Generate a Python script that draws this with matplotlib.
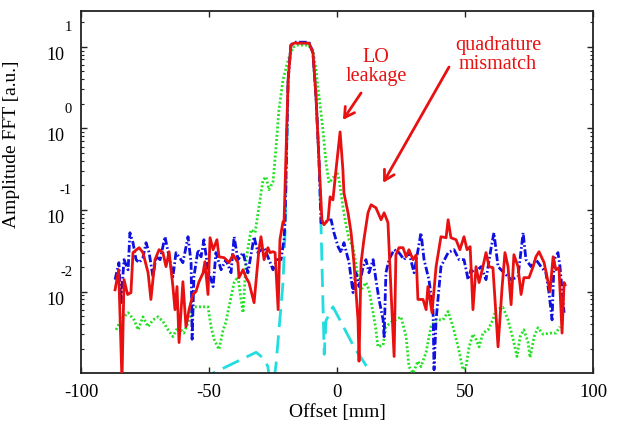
import matplotlib
matplotlib.use("Agg")
import matplotlib.pyplot as plt
from matplotlib.transforms import blended_transform_factory, offset_copy
from matplotlib.ticker import LogLocator, NullFormatter

plt.rcParams['font.family'] = ['Liberation Serif', 'DejaVu Serif']
plt.rcParams['lines.scale_dashes'] = False

# ---------------- data (offset in mm, amplitude in a.u.) ----------------
red_x = [-86.7, -85.3, -84.0, -83.2, -81.8, -80.5, -79.7, -77.3, -75.8, -73.8,
         -72.7, -71.1, -69.5, -68.0, -66.8, -65.6, -64.1, -63.3, -62.5, -61.7,
         -60.2, -59.0, -57.8, -56.3, -55.1, -53.9, -52.3, -51.6, -50.4, -49.6,
         -48.4, -46.9, -46.1, -44.1, -42.2, -40.6, -38.7, -38.3, -36.7, -35.5,
         -34.4, -32.4, -30.5, -29.7, -28.5, -27.0, -26.2, -25.0, -24.2, -23.0,
         -22.3, -21.1, -20.7, -19.1, -18.0, -16.8, -10.9, -9.4, -8.2, -7.0,
         -5.9, -5.1, -3.5, -2.7, -1.6, -0.4, 1.2, 2.3, 2.7, 4.3,
         5.5, 6.6, 8.2, 8.6, 9.4, 10.5, 12.1, 13.3, 15.2, 17.2,
         18.4, 19.9, 21.1, 22.3, 23.0, 24.2, 25.8, 27.0, 28.1, 29.7,
         30.9, 31.6, 33.6, 34.8, 35.5, 37.1, 38.7, 40.6, 42.6, 43.4,
         44.5, 46.5, 48.0, 49.6, 50.8, 52.0, 53.1, 54.3, 55.5, 57.0,
         58.2, 59.4, 60.9, 62.9, 64.5, 65.6, 66.8, 68.0, 69.1, 70.7,
         71.9, 73.0, 75.0, 76.6, 77.7, 78.9, 80.9, 82.4, 83.2, 84.4,
         85.5, 86.7, 87.9, 88.7, 89.1]
red_y = [0.0105, 0.0185, 0.0008, 0.014, 0.0092, 0.0097, 0.030, 0.0345, 0.030, 0.017,
         0.008, 0.0246, 0.0326, 0.030, 0.0202, 0.0308, 0.0115, 0.006, 0.0115, 0.00237,
         0.0132, 0.0037, 0.006, 0.0092, 0.010, 0.0132, 0.017, 0.0232, 0.0092, 0.0457,
         0.0326, 0.0432, 0.0267, 0.026, 0.0226, 0.0283, 0.0226, 0.0148, 0.0185, 0.0148,
         0.0129, 0.0073, 0.0326, 0.047, 0.0246, 0.0345, 0.030, 0.0308, 0.030, 0.006,
         0.0432, 0.0717, 0.0697, 3.92, 10.5, 11.1, 11.1, 8.4, 2.43, 0.378,
         0.0759, 0.0659, 0.0759, 0.145, 0.133, 0.31, 0.906, 0.31, 0.162, 0.0924,
         0.0526, 0.0226, 0.0045, 0.0014, 0.0226, 0.0432, 0.0924, 0.1158, 0.1064, 0.0759,
         0.0924, 0.070, 0.010, 0.0016, 0.028, 0.0345, 0.0345, 0.0267, 0.0326, 0.0246,
         0.028, 0.008, 0.008, 0.006, 0.0115, 0.0055, 0.0202, 0.047, 0.0457, 0.0759,
         0.0457, 0.0432, 0.0326, 0.047, 0.0326, 0.0355, 0.006, 0.0202, 0.0129, 0.0202,
         0.030, 0.0202, 0.0196, 0.0021, 0.0115, 0.030, 0.0202, 0.0069, 0.0283, 0.0202,
         0.0092, 0.0148, 0.0148, 0.0202, 0.0267, 0.0308, 0.0226, 0.0132, 0.010, 0.0267,
         0.0185, 0.0196, 0.0031, 0.0129, 0.0121]

blue_x = [-86.7, -85.2, -84.4, -83.2, -81.6, -80.9, -79.7, -78.5, -77.3, -75.8,
          -74.6, -73.4, -71.9, -70.7, -69.1, -67.2, -65.6, -64.1, -62.9, -61.7,
          -60.2, -58.2, -57.0, -56.6, -55.9, -54.3, -53.1, -52.0, -50.4, -49.2,
          -48.4, -47.3, -45.3, -43.4, -41.4, -40.2, -38.7, -36.7, -34.8, -32.4,
          -30.9, -28.5, -27.0, -25.0, -23.4, -21.9, -20.7, -20.3, -19.1, -18.0,
          -16.8, -10.9, -9.4, -8.2, -7.0, -6.25, -4.3, -2.3, -1.2, 0.4,
          1.6, 2.7, 4.7, 6.25, 7.4, 8.6, 10.2, 11.3, 12.5, 14.1,
          15.2, 16.4, 18.0, 18.4, 19.1, 20.3, 22.3, 24.2, 26.2, 28.1,
          30.1, 32.8, 34.0, 35.9, 37.5, 37.9, 38.7, 40.6, 43.4, 45.7,
          47.7, 49.6, 51.2, 52.3, 53.5, 56.3, 58.2, 60.2, 61.3, 62.9,
          65.2, 68.0, 70.7, 72.7, 73.8, 75.8, 77.7, 79.7, 81.6, 82.8,
          84.0, 84.8, 86.3, 87.1, 88.7]
blue_y = [0.014, 0.0226, 0.0073, 0.0246, 0.0185, 0.0526, 0.0397, 0.0246, 0.0226, 0.026,
          0.0397, 0.030, 0.0152, 0.0267, 0.0246, 0.047, 0.0267, 0.0152, 0.030, 0.0267,
          0.0226, 0.047, 0.0226, 0.0026, 0.0152, 0.0326, 0.0267, 0.0432, 0.0185, 0.014,
          0.0115, 0.030, 0.0185, 0.0246, 0.017, 0.047, 0.0246, 0.030, 0.017, 0.047,
          0.030, 0.0345, 0.0267, 0.0185, 0.0246, 0.0246, 0.0432, 0.0717, 3.92, 10.5,
          11.4, 11.4, 8.4, 2.43, 0.378, 0.0697, 0.0717, 0.0759, 0.0526, 0.0355,
          0.030, 0.0397, 0.0226, 0.0097, 0.017, 0.0115, 0.0202, 0.0246, 0.017, 0.0246,
          0.014, 0.008, 0.0045, 0.0028, 0.017, 0.0246, 0.0326, 0.030, 0.0246, 0.030,
          0.017, 0.0526, 0.0246, 0.014, 0.006, 0.0011, 0.0045, 0.0202, 0.030, 0.0326,
          0.0246, 0.0246, 0.014, 0.0185, 0.017, 0.0202, 0.014, 0.0345, 0.0526, 0.0202,
          0.017, 0.014, 0.0152, 0.0526, 0.0246, 0.0202, 0.0246, 0.0202, 0.017, 0.0097,
          0.0045, 0.0246, 0.030, 0.0202, 0.0055]

green_x = [-86.3, -84.4, -81.6, -79.3, -77.7, -75.8, -73.8, -71.9, -69.9, -68.0,
           -66.0, -64.1, -62.1, -59.8, -57.8, -55.9, -53.1, -50.4, -49.2, -48.0,
           -46.1, -44.5, -43.4, -42.2, -40.2, -38.7, -37.5, -36.7, -35.5, -33.6,
           -32.0, -30.5, -28.9, -27.7, -26.6, -25.0, -23.8, -22.7, -21.1, -19.1,
           -17.2, -15.2, -11.3, -9.4, -8.2, -7.0, -5.5, -4.3, -3.1, -1.2,
           0.0, 0.8, 2.3, 3.5, 4.7, 6.25, 8.2, 9.4, 11.3, 12.5,
           14.1, 15.2, 16.0, 18.0, 19.1, 21.1, 25.0, 27.0, 28.1, 29.7,
           31.6, 32.8, 34.8, 36.7, 38.7, 41.4, 43.4, 45.3, 47.3, 49.2,
           50.4, 51.6, 53.1, 54.3, 55.5, 57.0, 59.0, 60.9, 62.1, 64.8,
           66.8, 68.8, 70.3, 71.5, 73.0, 74.6, 75.4, 77.0, 78.5, 80.5,
           83.6, 85.5, 87.1]
green_y = [0.0034, 0.0045, 0.0055, 0.0045, 0.0034, 0.0049, 0.0037, 0.0045, 0.0049, 0.0043,
           0.0034, 0.0028, 0.0037, 0.0031, 0.0045, 0.0065, 0.0065, 0.0065, 0.0037, 0.0026,
           0.00195, 0.0034, 0.0042, 0.0065, 0.0129, 0.0152, 0.008, 0.0055, 0.0246, 0.0573,
           0.0526, 0.109, 0.234, 0.255, 0.177, 0.221, 0.594, 1.68, 3.92, 6.9,
           9.95, 10.5, 10.5, 9.1, 5.2, 2.43, 0.958, 0.378, 0.215, 0.255,
           0.294, 0.234, 0.11, 0.066, 0.043, 0.0355, 0.0152, 0.0105, 0.0129, 0.0105,
           0.0055, 0.0034, 0.0021, 0.0022, 0.0037, 0.0042, 0.0049, 0.0028, 0.0012, 0.0010,
           0.0014, 0.0012, 0.0018, 0.0037, 0.0045, 0.0045, 0.0057, 0.0037, 0.0021, 0.0011,
           0.0012, 0.0021, 0.0030, 0.0026, 0.0021, 0.0031, 0.0034, 0.0045, 0.0060, 0.0064,
           0.0045, 0.0026, 0.0016, 0.0028, 0.0034, 0.0024, 0.00155, 0.0028, 0.0036, 0.0030,
           0.0031, 0.0031, 0.0037]

cyan_x = [-52.0, -48.4, -31.6, -28.5, -27.0, -25.5, -23.8, -21.1, -20.3, -19.1,
          -18.0, -16.8, -10.9, -9.4, -8.2, -7.0, -6.25, -5.0, -4.3, -1.6,
          1.6, 6.6, 13.3, 16.0]
cyan_y = [0.0007, 0.001, 0.0018, 0.0015, 0.0012, 0.0005, 0.0013, 0.0129, 0.0526, 3.92,
          10.5, 11.1, 11.1, 8.4, 2.43, 0.378, 0.065, 0.0017, 0.0044, 0.0065,
          0.0042, 0.0021, 0.001, 0.0006]

x_ticks = [-100, -50, 0, 50, 100]
y_ticks = [1e-2, 1e-1, 1e0, 1e1]
y_exponents = ['-2', '-1', '0', '1']

# ---------------- figure ----------------
fig = plt.figure(figsize=(6.29, 4.40), dpi=100)
ax = fig.add_axes([0.1288, 0.152, 0.814, 0.823])

ax.plot(cyan_x, cyan_y, color='#22dde0', lw=2.0, dashes=(13, 6), zorder=2)
ax.plot(green_x, green_y, color='#22e022', lw=2.0, dashes=(1.4, 1.6), zorder=3)
ax.plot(blue_x, blue_y, color='#1010e0', lw=2.0, dashes=(5.5, 1.8, 1.2, 1.8), zorder=4)
ax.plot(red_x, red_y, color='#e81010', lw=2.0, zorder=5)

ax.set_yscale('log')
ax.set_xlim(-100, 100)
ax.set_ylim(1e-3, 27.5)

ax.set_xticks(x_ticks)
ax.set_xticklabels([str(v) for v in x_ticks])
ax.set_yticks(y_ticks)
ax.set_yticklabels(['10'] * len(y_ticks))
ax.yaxis.set_minor_locator(LogLocator(base=10, subs=range(2, 10)))
ax.yaxis.set_minor_formatter(NullFormatter())

ax.tick_params(axis='both', which='major', direction='in', length=4.5, width=1.0,
               top=True, right=True, labelsize=13.5, colors='#222222')
ax.tick_params(axis='y', which='minor', direction='in', length=2.5, width=0.8,
               left=True, right=True, colors='#222222')
ax.tick_params(axis='x', which='major', pad=8)
ax.tick_params(axis='y', which='major', pad=12)
for lab in ax.get_yticklabels():
    lab.set_va('top')
    lab.set_fontsize(13)
for lab in ax.get_xticklabels() + ax.get_yticklabels():
    lab.set_color('black')

for s in ax.spines.values():
    s.set_linewidth(1.3)
    s.set_color('#222222')

# exponents of the y tick labels
trans = blended_transform_factory(ax.transAxes, ax.transData)
for val, ex in zip(y_ticks, y_exponents):
    ax.text(0, val, ex, transform=offset_copy(trans, fig=fig, x=-9, y=19, units='dots'),
            ha='right', va='center', fontsize=10.5, color='black')

ax.set_xlabel('Offset [mm]', fontsize=14, labelpad=2)
ax.set_ylabel('Amplitude FFT [a.u.]', fontsize=14)
ax.yaxis.set_label_coords(-0.119, 0.633)

# annotations
red = '#e81010'
arrow = dict(arrowstyle='->,head_length=0.7,head_width=0.4', color=red, lw=2.0,
             shrinkA=0, shrinkB=0)
ax.text(15.2, 5.66, 'LO\nleakage', ha='center', va='center', fontsize=14.5,
        color=red, linespacing=1.0)
ax.annotate('', xy=(2.3, 1.27), xytext=(9.4, 2.72), arrowprops=arrow)
ax.text(62.9, 7.9, 'quadrature\nmismatch', ha='center', va='center', fontsize=14.5,
        color=red, linespacing=1.0)
ax.annotate('', xy=(18.0, 0.215), xytext=(43.75, 5.66), arrowprops=arrow)

fig.savefig('out.png', dpi=100)
